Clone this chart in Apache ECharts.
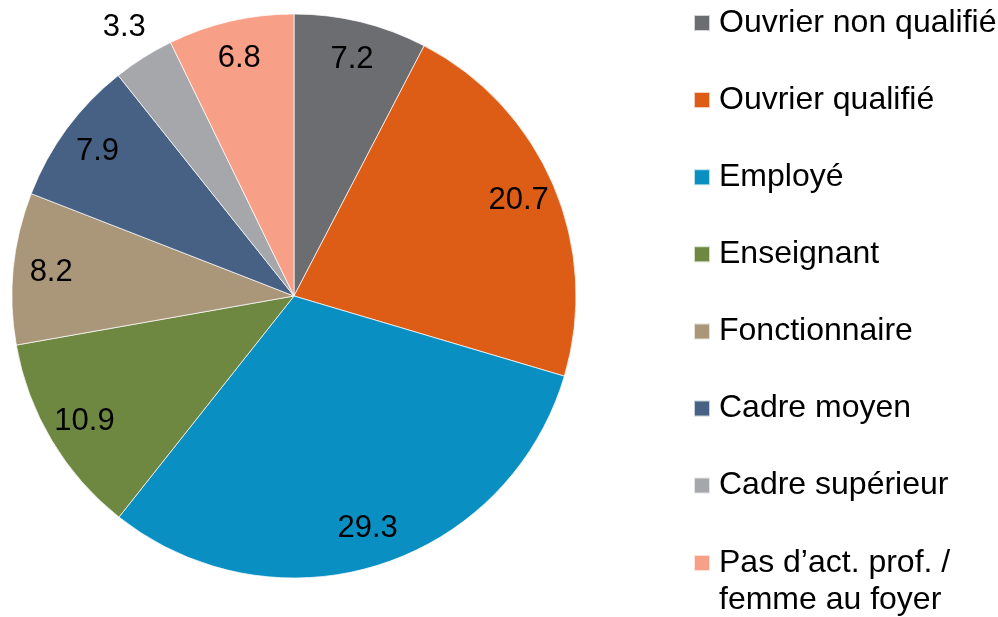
<!DOCTYPE html>
<html>
<head>
<meta charset="utf-8">
<script src="https://cdn.jsdelivr.net/npm/echarts@6/dist/echarts.min.js"></script>
<style>
  html, body { margin: 0; padding: 0; background: #fff; }
  #chart { width: 998px; height: 617px; }
</style>
</head>
<body>
<div id="chart"></div>
<script>
const categories = [
  'Ouvrier non qualifié',
  'Ouvrier qualifié',
  'Employé',
  'Enseignant',
  'Fonctionnaire',
  'Cadre moyen',
  'Cadre supérieur',
  'Pas d’act. prof. / femme au foyer'
]
const shares = [7.2, 20.7, 29.3, 10.9, 8.2, 7.9, 3.3, 6.8]
// small slice whose label sits outside the pie
const outsideLabels = ['Cadre supérieur']

const palette = ['#6c6d71', '#dd5c16', '#0a8fc2', '#6e8741', '#aa9679', '#476184', '#a5a7aa', '#f89f87']

const chart = echarts.init(document.getElementById('chart'))

const labelFont = { fontFamily: 'Liberation Sans, Arial, sans-serif', fontSize: 31, color: '#000' }
const center = [294, 296]

function pieData(withColor) {
  return categories.map((name, i) => ({
    name,
    value: shares[i],
    itemStyle: withColor ? { color: palette[i] } : { color: 'rgba(0,0,0,0)' }
  }))
}

const legendText = {
  fontFamily: 'Liberation Sans, Arial, sans-serif',
  fontSize: 32,
  lineHeight: 37,
  color: '#000',
  padding: [0, 0, 0, 4]
}

const option = {
  animation: false,
  legend: [
    {
      orient: 'vertical',
      left: 693,
      top: 4.5,
      padding: 0,
      icon: 'rect',
      itemWidth: 16,
      itemHeight: 16,
      itemGap: 40.1,
      selectedMode: false,
      data: categories.slice(0, 7),
      textStyle: legendText
    },
    {
      // wrapped entry: empty first line keeps the icon level with the first text line
      orient: 'vertical',
      left: 693,
      top: 507.5,
      padding: 0,
      icon: 'rect',
      itemWidth: 16,
      itemHeight: 16,
      selectedMode: false,
      data: categories.slice(7),
      formatter: name => '\n' + name.replace(' / ', ' /\n'),
      textStyle: legendText
    }
  ],
  series: [
    {
      name: 'slices',
      type: 'pie',
      center,
      radius: [0, 282],
      startAngle: 90,
      clockwise: true,
      label: { show: false },
      labelLine: { show: false },
      itemStyle: { borderColor: 'rgba(255,255,255,0.7)', borderWidth: 1 },
      emphasis: { disabled: true },
      data: pieData(true)
    },
    {
      // inner labels, on a transparent ring
      name: 'labels',
      type: 'pie',
      silent: true,
      center,
      radius: [200, 282],
      startAngle: 90,
      label: {
        show: true,
        position: 'inside',
        ...labelFont,
        formatter: p => outsideLabels.includes(p.name) ? '' : p.value.toFixed(1)
      },
      labelLine: { show: false },
      emphasis: { disabled: true },
      data: pieData(false)
    },
    {
      // outside labels for the thin slices
      name: 'labelsOut',
      type: 'pie',
      silent: true,
      center,
      radius: [282, 348],
      startAngle: 90,
      label: {
        show: true,
        position: 'inside',
        ...labelFont,
        formatter: p => outsideLabels.includes(p.name) ? p.value.toFixed(1) : ''
      },
      labelLine: { show: false },
      emphasis: { disabled: true },
      data: pieData(false)
    }
  ]
}

chart.setOption(option)
window.addEventListener('resize', () => chart.resize())
</script>
</body>
</html>
